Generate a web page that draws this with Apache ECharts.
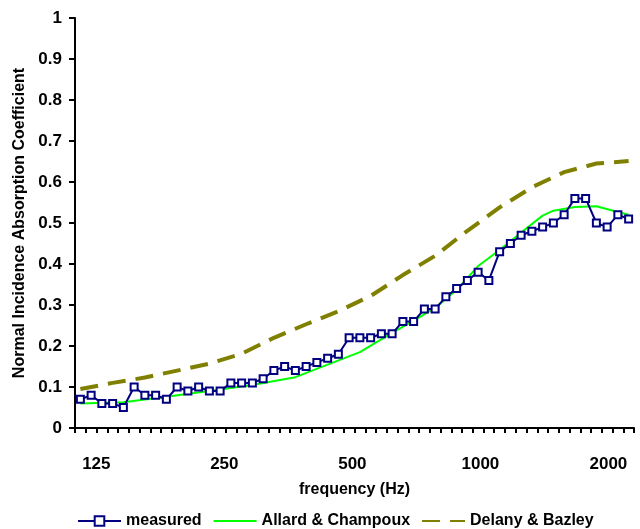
<!DOCTYPE html>
<html><head><meta charset="utf-8">
<script src="https://cdn.jsdelivr.net/npm/echarts@6/dist/echarts.min.js"></script>
<style>html,body{margin:0;padding:0;background:#fff}#c{width:640px;height:529px}</style>
</head><body><div id="c"></div>
<script>
// 52 measurement points (1/12-octave bands), identified by index
const pointIds = ['1','2','3','4','5','6','7','8','9','10','11','12','13','14','15','16','17','18','19','20','21','22','23','24','25','26','27','28','29','30','31','32','33','34','35','36','37','38','39','40','41','42','43','44','45','46','47','48','49','50','51','52'];

const measured = [0.07,0.08,0.06,0.06,0.05,0.10,0.08,0.08,0.07,0.10,0.09,0.10,0.09,0.09,0.11,0.11,0.11,0.12,0.14,0.15,0.14,0.15,0.16,0.17,0.18,0.22,0.22,0.22,0.23,0.23,0.26,0.26,0.29,0.29,0.32,0.34,0.36,0.38,0.36,0.43,0.45,0.47,0.48,0.49,0.50,0.52,0.56,0.56,0.50,0.49,0.52,0.51];

const allard = [0.06,null,null,null,0.063,null,null,null,0.076,null,null,null,0.09,null,null,null,0.105,null,null,null,0.124,null,null,null,null,null,0.185,null,null,0.232,null,0.262,null,0.293,null,0.337,null,0.395,null,0.434,null,0.477,null,0.518,0.53,null,0.539,null,0.541,null,0.527,0.52];

const delany = [0.095,null,null,0.11,null,null,0.123,null,null,0.14,null,null,0.157,null,null,0.181,null,null,0.22,null,null,0.253,null,null,0.285,null,null,0.322,null,null,0.373,null,null,0.42,null,null,0.481,null,null,0.538,null,null,0.587,null,null,0.624,null,null,0.645,null,null,0.651];

const freqTicks = [125, 250, 500, 1000, 2000];

const FONT = 'Liberation Sans';
const CLEAR = 'rgba(0,0,0,0)';
const chart = echarts.init(document.getElementById('c'), null, {renderer: 'canvas'});
chart.setOption({
  animation: false,
  backgroundColor: '#fff',
  grid: {left: 75, right: 6, top: 18, bottom: 101},
  legend: {
    data: [
      {name: 'measured'},
      {name: 'Allard & Champoux', itemStyle: {color: CLEAR, borderColor: CLEAR, borderWidth: 0}},
      {name: 'Delany & Bazley', itemStyle: {color: CLEAR, borderColor: CLEAR, borderWidth: 0}}
    ],
    left: 72, top: 508,
    itemWidth: 43, itemHeight: 12, itemGap: 11,
    textStyle: {fontFamily: FONT, fontWeight: 'bold', fontSize: 16, color: '#000'}
  },
  xAxis: [{
    type: 'category',
    data: pointIds,
    boundaryGap: true,
    axisLine: {lineStyle: {color: '#000', width: 2}},
    axisTick: {show: true, interval: 0, length: 5, lineStyle: {color: '#000', width: 2}},
    axisLabel: {show: false},
    splitLine: {show: false}
  }, {
    type: 'value',
    position: 'bottom',
    min: Math.log2(freqTicks[0]) - 1/6,
    max: Math.log2(freqTicks[freqTicks.length - 1]) + 0.2,
    axisLine: {show: false},
    axisTick: {show: false},
    splitLine: {show: false},
    axisLabel: {
      customValues: freqTicks.map(f => Math.log2(f)),
      formatter: v => String(Math.round(Math.pow(2, v))),
      margin: 28,
      fontFamily: FONT, fontWeight: 'bold', fontSize: 17, color: '#000'
    },
    name: 'frequency (Hz)',
    nameLocation: 'middle',
    nameGap: 54,
    nameTextStyle: {fontFamily: FONT, fontWeight: 'bold', fontSize: 16, color: '#000'}
  }],
  yAxis: {
    type: 'value',
    min: 0, max: 1, interval: 0.1,
    axisLine: {show: true, lineStyle: {color: '#000', width: 2}},
    axisTick: {show: true, length: 6, lineStyle: {color: '#000', width: 2}},
    splitLine: {show: false},
    axisLabel: {margin: 13, fontFamily: FONT, fontWeight: 'bold', fontSize: 17, color: '#000'},
    name: 'Normal Incidence Absorption Coefficient',
    nameLocation: 'middle',
    nameGap: 40,
    nameTextStyle: {fontFamily: FONT, fontWeight: 'bold', fontSize: 16, color: '#000'}
  },
  series: [{
    name: 'Allard & Champoux',
    type: 'line',
    xAxisIndex: 0,
    data: allard,
    connectNulls: true,
    symbol: 'none',
    z: 2,
    itemStyle: {color: CLEAR},
    lineStyle: {color: '#00ff00', width: 2}
  }, {
    name: 'Delany & Bazley',
    type: 'line',
    xAxisIndex: 0,
    data: delany,
    connectNulls: true,
    symbol: 'none',
    z: 2,
    itemStyle: {color: CLEAR},
    lineStyle: {color: '#808000', width: 4, type: [18, 10]}
  }, {
    name: 'measured',
    type: 'line',
    xAxisIndex: 0,
    data: measured,
    symbol: 'emptyRect',
    symbolSize: 7,
    z: 3,
    itemStyle: {color: '#000080', borderColor: '#000080', borderWidth: 2},
    lineStyle: {color: '#000080', width: 2}
  }]
});
</script></body></html>
